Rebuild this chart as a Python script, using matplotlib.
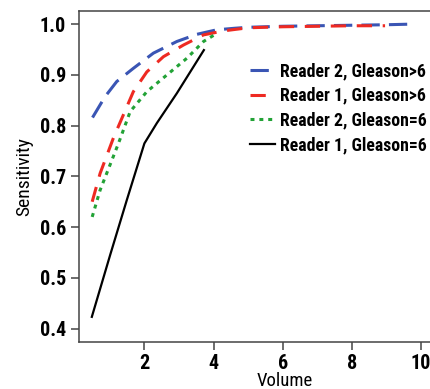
import matplotlib.pyplot as plt

# Sensitivity vs volume curves
blue_x = [0.5, 0.86, 1.2, 1.68, 2.26, 2.94, 3.51, 4.09, 4.6, 5.0, 6.0, 7.0, 8.0, 9.0, 9.6]
blue_y = [0.816, 0.857, 0.887, 0.913, 0.943, 0.966, 0.980, 0.989, 0.992, 0.994, 0.996, 0.997, 0.998, 0.999, 1.0]

red_x = [0.49, 0.72, 1.10, 1.39, 1.68, 2.07, 2.55, 3.13, 3.71, 4.3, 5.0, 6.0, 7.0, 8.0, 8.96]
red_y = [0.65, 0.706, 0.775, 0.821, 0.867, 0.906, 0.936, 0.959, 0.979, 0.987, 0.993, 0.995, 0.996, 0.997, 0.997]

green_x = [0.49, 0.72, 1.25, 1.59, 2.07, 2.65, 3.23, 3.71, 4.0, 4.1]
green_y = [0.62, 0.673, 0.765, 0.828, 0.867, 0.9, 0.933, 0.966, 0.978, 0.981]

black_x = [0.48, 1.01, 1.49, 2.0, 2.36, 2.94, 3.72]
black_y = [0.423, 0.545, 0.653, 0.765, 0.805, 0.864, 0.949]

labels = ['Reader 2, Gleason>6', 'Reader 1, Gleason>6',
          'Reader 2, Gleason=6', 'Reader 1, Gleason=6']
xticks = [2, 4, 6, 8, 10]
yticks = [0.4, 0.5, 0.6, 0.7, 0.8, 0.9, 1.0]

plt.rcParams['font.family'] = ['Roboto Condensed', 'Roboto', 'DejaVu Sans']
plt.rcParams['font.weight'] = 'bold'

fig = plt.figure(figsize=(4.3, 3.89), dpi=100)
# axes run off the right edge like the cropped original
ax = fig.add_axes([0.183, 0.1216, 0.957, 0.850])

ax.plot(blue_x, blue_y, color='#3a55b4', lw=2.2, dashes=(6, 3), label=labels[0])
ax.plot(red_x, red_y, color='#ee2a22', lw=2.2, dashes=(5, 3.5), label=labels[1])
ax.plot(green_x, green_y, color='#22a236', lw=2.2, dashes=(1.3, 1.6), label=labels[2])
ax.plot(black_x, black_y, color='black', lw=1.6, label=labels[3])

ax.set_xlim(0.1, 12.0)
ax.set_ylim(0.374, 1.026)
ax.set_xticks(xticks)
ax.set_yticks(yticks)
ax.set_yticklabels([f'{v:.1f}' for v in yticks])

for s in ax.spines.values():
    s.set_color('#444444')
    s.set_linewidth(1.1)
ax.tick_params(direction='out', length=6, width=1.1, color='#444444',
               labelsize=14.5, pad=3)

ax.set_xlabel('Volume', fontsize=13.5, labelpad=-1)
ax.set_ylabel('Sensitivity', fontsize=14, labelpad=5)

ax.legend(loc='upper left', bbox_to_anchor=(250 / 430, 1 - 62 / 389),
          bbox_transform=fig.transFigure, frameon=False, fontsize=12.8,
          handlelength=1.4, handletextpad=0.28, labelspacing=0.38,
          borderpad=0, borderaxespad=0)

fig.savefig('out.png', dpi=100)
